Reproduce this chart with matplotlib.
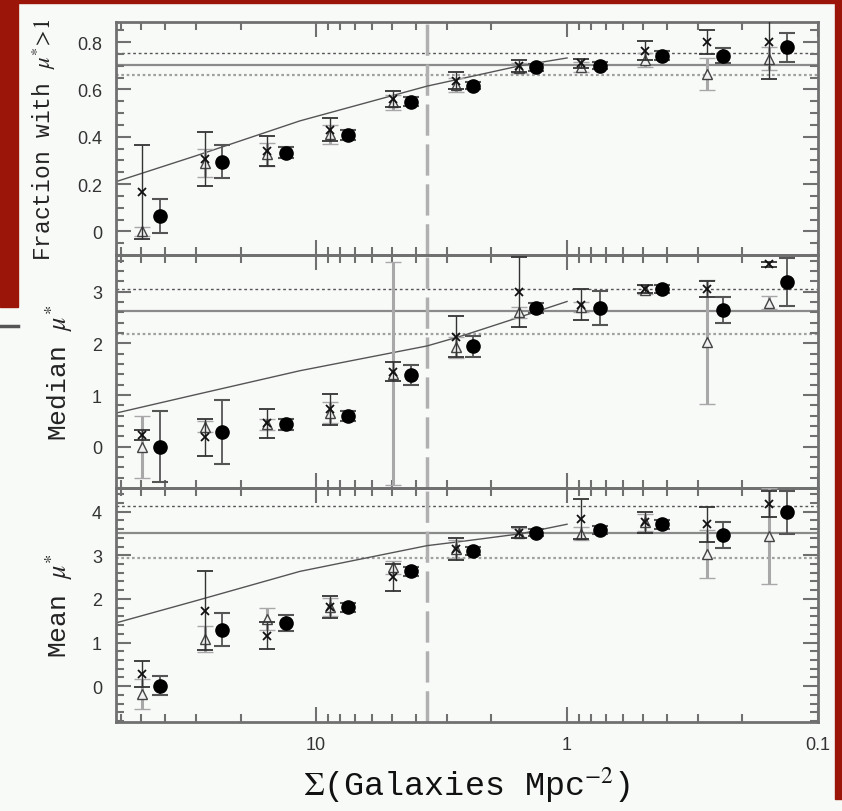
import numpy as np
import matplotlib.pyplot as plt
from matplotlib.patches import Rectangle
from matplotlib.lines import Line2D
from matplotlib.ticker import FixedLocator, MultipleLocator, NullFormatter

plt.rcParams["mathtext.fontset"] = "stix"

# surface density of each bin (crosses/triangles), circles sit slightly lower
sigma_xt = [49.3, 27.7, 15.7, 8.79, 4.93, 2.77, 1.55, 0.88, 0.49, 0.277, 0.157]
sigma_circ = [41.8, 23.7, 13.2, 7.46, 4.19, 2.37, 1.33, 0.74, 0.42, 0.238, 0.133]

# fraction with mu* > 1
frac_circ = [0.065, 0.294, 0.333, 0.407, 0.548, 0.616, 0.694, 0.70, 0.743, 0.743, 0.778]
frac_circ_err = [0.07, 0.07, 0.025, 0.02, 0.02, 0.015, 0.015, 0.015, 0.02, 0.03, 0.06]
frac_cross = [0.167, 0.305, 0.34, 0.43, 0.56, 0.637, 0.70, 0.71, 0.764, 0.80, 0.80]
frac_cross_err = [0.2, 0.115, 0.065, 0.05, 0.035, 0.035, 0.025, 0.02, 0.04, 0.05, 0.155]
frac_tri = [0.0, 0.29, 0.325, 0.41, 0.545, 0.619, 0.69, 0.695, 0.725, 0.665, 0.73]
frac_tri_err = [0.02, 0.06, 0.05, 0.04, 0.03, 0.03, 0.02, 0.02, 0.03, 0.068, 0.05]

# median mu*
med_circ = [0.0, 0.28, 0.43, 0.60, 1.39, 1.94, 2.68, 2.68, 3.05, 2.65, 3.19]
med_circ_err = [0.69, 0.62, 0.1, 0.1, 0.2, 0.2, 0.1, 0.33, 0.08, 0.25, 0.47]
med_cross = [0.23, 0.18, 0.45, 0.72, 1.45, 2.13, 3.0, 2.75, 3.05, 3.05, 3.53]
med_cross_err = [0.1, 0.36, 0.28, 0.3, 0.18, 0.4, 0.68, 0.3, 0.08, 0.15, 0.05]
med_tri = [0.0, 0.39, 0.43, 0.66, 1.41, 1.92, 2.6, 2.70, 3.04, 2.03, 2.79]
med_tri_err = [0.6, 0.1, 0.1, 0.2, 2.16, 0.2, 0.1, 0.1, 0.08, 1.2, 0.12]

# mean mu*
mean_circ = [0.01, 1.29, 1.45, 1.81, 2.63, 3.10, 3.52, 3.58, 3.71, 3.46, 3.98]
mean_circ_err = [0.22, 0.38, 0.19, 0.1, 0.1, 0.1, 0.08, 0.1, 0.1, 0.3, 0.5]
mean_cross = [0.28, 1.73, 1.16, 1.81, 2.49, 3.14, 3.52, 3.83, 3.75, 3.71, 4.17]
mean_cross_err = [0.3, 0.9, 0.3, 0.25, 0.32, 0.25, 0.13, 0.45, 0.24, 0.4, 0.3]
mean_tri = [-0.18, 1.08, 1.54, 1.81, 2.72, 3.14, 3.52, 3.49, 3.75, 3.03, 3.43]
mean_tri_err = [0.35, 0.3, 0.25, 0.2, 0.15, 0.2, 0.1, 0.15, 0.2, 0.55, 1.1]

# cumulative curves
curve_sigma = [62.7, 30, 11.6, 3.61, 2.6, 1.54, 1.0]
curve_frac = [0.21, 0.32, 0.467, 0.614, 0.647, 0.70, 0.733]
curve_med = [0.65, 1.01, 1.47, 1.95, 2.15, 2.51, 2.81]
curve_mean = [1.45, 1.96, 2.63, 3.22, 3.32, 3.49, 3.71]

# field values: (solid, upper dotted, lower dotted)
field_frac = [0.705, 0.753, 0.661]
field_med = [2.62, 3.06, 2.19]
field_mean = [3.52, 4.13, 2.93]

sigma_cut = 3.6

panels = [
    ("Fraction with $\\mu^{*}\\!>\\!1$", frac_circ, frac_circ_err, frac_cross, frac_cross_err,
     frac_tri, frac_tri_err, curve_frac, field_frac, (-0.1, 0.885), 0.05, [0, 0.2, 0.4, 0.6, 0.8]),
    ("Median $\\mu^{*}$", med_circ, med_circ_err, med_cross, med_cross_err,
     med_tri, med_tri_err, curve_med, field_med, (-0.8, 3.71), 0.2, [0, 1, 2, 3]),
    ("Mean $\\mu^{*}$", mean_circ, mean_circ_err, mean_cross, mean_cross_err,
     mean_tri, mean_tri_err, curve_mean, field_mean, (-0.82, 4.54), 0.2, [0, 1, 2, 3, 4]),
]
label_sizes = [16.5, 19, 19]
label_x = [-0.083, -0.058, -0.058]

W, H = 842, 812
fig = plt.figure(figsize=(W / 100, H / 100), dpi=100, facecolor="#f8faf8")

# slide background bits
red = "#9b1508"
fig.add_artist(Rectangle((0, 1 - 308 / H), 18 / W, 308 / H, transform=fig.transFigure, color=red, zorder=-5))
fig.add_artist(Rectangle((0, 1 - 4 / H), 1, 4 / H, transform=fig.transFigure, color=red, zorder=-5))
fig.add_artist(Rectangle((835 / W, 1 - 800 / H), 7 / W, 800 / H, transform=fig.transFigure, color=red, zorder=-5))
fig.add_artist(Line2D([0, 18 / W], [1 - 327 / H] * 2, transform=fig.transFigure, color="#555555", lw=2.5))

spine_c = "#707070"
tops = [23, 256, 489]
bots = [256, 489, 723]
axs = []
for i, (ylab, c, ce, x, xe, t, te, curve, field, ylim, minor, yt) in enumerate(panels):
    ax = fig.add_axes([116 / W, 1 - bots[i] / H, 702 / W, (bots[i] - tops[i]) / H])
    ax.set_facecolor("none")
    ax.set_xscale("log")
    ax.set_xlim(62.7, 0.1)
    ax.set_ylim(*ylim)

    ax.axhline(field[0], color="#8a8a8a", lw=1.6, zorder=1)
    ax.axhline(field[1], color="#555555", lw=1.0, ls=(0, (2, 2)), zorder=1)
    ax.axhline(field[2], color="#a0a0a0", lw=1.6, ls=(0, (1.2, 1.2)), zorder=1)
    ax.axvline(sigma_cut, color="#b0b0b0", lw=2.5, ls=(0, (9, 2.5)), zorder=1)
    ax.plot(curve_sigma, curve, color="#555555", lw=1.0, zorder=2)

    ax.errorbar(sigma_xt, t, yerr=te, fmt="^", ms=7, mfc="#f0f0f0", mec="#444444", mew=1.0,
                ecolor="#a8a8a8", elinewidth=2.2, capsize=6, capthick=2.2, zorder=3)
    ax.errorbar(sigma_xt, x, yerr=xe, fmt="x", ms=5.5, mec="#111111", mew=1.3,
                ecolor="#333333", elinewidth=1.0, capsize=6, capthick=1.2, zorder=4)
    ax.errorbar(sigma_circ, c, yerr=ce, fmt="o", ms=9.5, color="black",
                ecolor="#555555", elinewidth=1.3, capsize=6, capthick=1.5, zorder=5)

    ax.yaxis.set_major_locator(FixedLocator(yt))
    ax.yaxis.set_minor_locator(MultipleLocator(minor))
    ax.set_yticklabels([f"{v:g}" for v in yt])
    ax.xaxis.set_major_locator(FixedLocator([10, 1, 0.1]))
    ax.xaxis.set_minor_locator(FixedLocator([m * d for d in (0.1, 1, 10) for m in range(2, 10)]))
    ax.xaxis.set_minor_formatter(NullFormatter())
    if i < 2:
        ax.set_xticklabels([])
    else:
        ax.set_xticklabels(["10", "1", "0.1"])

    ax.tick_params(which="both", direction="in", top=True, right=True, colors=spine_c,
                   labelcolor="#333333", labelsize=13, width=1.5)
    ax.tick_params(which="major", length=11, pad=10)
    ax.tick_params(which="minor", length=6)
    for s in ax.spines.values():
        s.set_color(spine_c)
        s.set_linewidth(2)
    for lab in ax.get_xticklabels() + ax.get_yticklabels():
        lab.set_family("Liberation Sans")

    ax.set_ylabel(ylab, family="Liberation Mono", fontsize=label_sizes[i], color="#222222")
    ax.yaxis.set_label_coords(label_x[i], 0.5)
    axs.append(ax)

axs[2].set_xlabel("$\\Sigma$(Galaxies Mpc$^{-2}$)", family="Liberation Mono", fontsize=24,
                  color="#111111", labelpad=8)

fig.savefig("out.png", dpi=100, facecolor=fig.get_facecolor())
